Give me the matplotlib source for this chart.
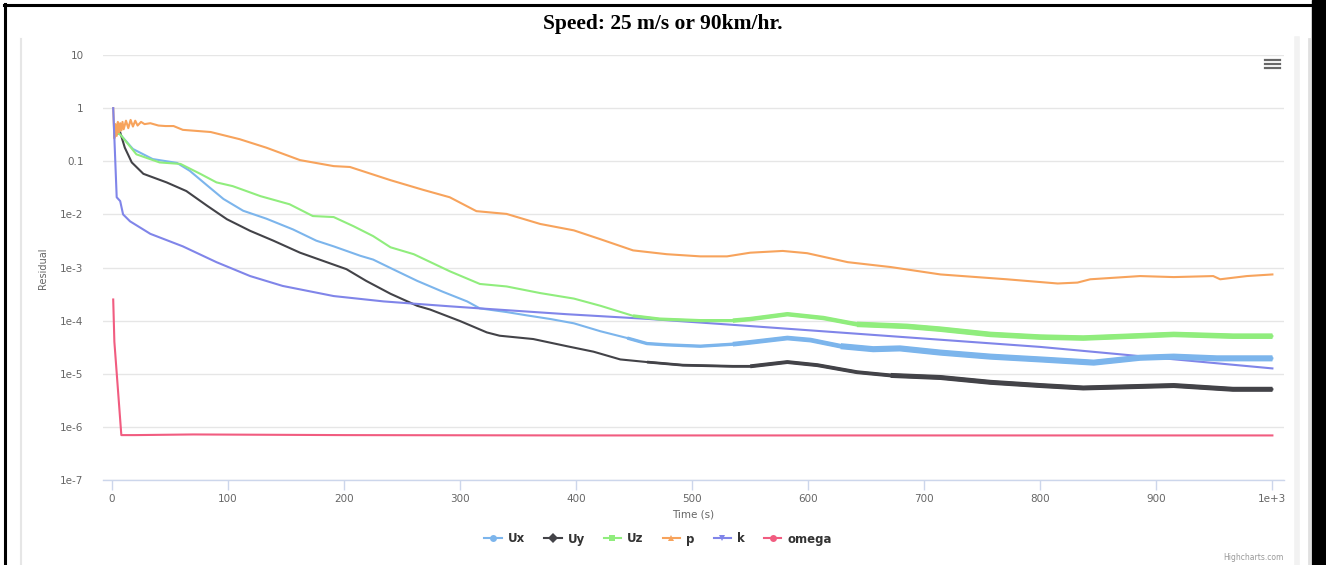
import numpy as np
import matplotlib
matplotlib.use("Agg")
import matplotlib.pyplot as plt
from matplotlib.lines import Line2D

W, H = 1326, 565

# residual history (time in s, residual value)
ux_t = [3, 7, 18, 35, 56, 67, 82, 96, 113, 133, 156, 176, 191, 214, 225, 242, 263, 285,
        306, 317, 340, 357, 378, 398, 421, 444, 461, 478, 507, 535, 550, 582, 602, 628,
        656, 679, 714, 757, 800, 846, 886, 915, 952, 1000]
ux_v = [0.36, 0.32, 0.17, 0.11, 0.093, 0.066, 0.035, 0.0195, 0.0117, 8.3e-3, 5.2e-3,
        3.2e-3, 2.5e-3, 1.66e-3, 1.41e-3, 9.3e-4, 5.6e-4, 3.5e-4, 2.3e-4, 1.7e-4, 1.45e-4,
        1.26e-4, 1.07e-4, 8.9e-5, 6.3e-5, 4.7e-5, 3.7e-5, 3.5e-5, 3.3e-5, 3.6e-5, 3.9e-5,
        4.7e-5, 4.3e-5, 3.3e-5, 2.9e-5, 3.0e-5, 2.5e-5, 2.1e-5, 1.86e-5, 1.62e-5, 2.0e-5,
        2.1e-5, 1.95e-5, 1.95e-5]

uy_t = [3, 7, 11, 17, 27, 47, 64, 82, 99, 119, 139, 162, 185, 202, 219, 240, 263, 274,
        300, 323, 334, 363, 392, 415, 438, 461, 492, 535, 550, 582, 608, 642, 671, 714,
        757, 800, 837, 915, 966, 1000]
uy_v = [0.32, 0.35, 0.18, 0.095, 0.058, 0.040, 0.0275, 0.0145, 8.1e-3, 4.9e-3, 3.2e-3,
        1.9e-3, 1.26e-3, 9.3e-4, 5.6e-4, 3.2e-4, 1.9e-4, 1.62e-4, 9.8e-5, 6.0e-5, 5.2e-5,
        4.5e-5, 3.3e-5, 2.6e-5, 1.86e-5, 1.66e-5, 1.45e-5, 1.38e-5, 1.38e-5, 1.66e-5,
        1.45e-5, 1.07e-5, 9.3e-6, 8.5e-6, 6.9e-6, 6.0e-6, 5.4e-6, 6.0e-6, 5.1e-6, 5.1e-6]

uz_t = [3, 7, 21, 41, 59, 76, 90, 104, 128, 153, 173, 191, 208, 225, 240, 260, 291, 317,
        340, 369, 398, 421, 449, 472, 507, 535, 550, 582, 613, 642, 685, 714, 757, 800,
        837, 915, 966, 1000]
uz_v = [0.35, 0.32, 0.135, 0.095, 0.089, 0.058, 0.040, 0.034, 0.022, 0.0155, 9.3e-3,
        8.9e-3, 6.0e-3, 3.9e-3, 2.4e-3, 1.78e-3, 8.5e-4, 4.9e-4, 4.4e-4, 3.3e-4, 2.6e-4,
        1.9e-4, 1.23e-4, 1.07e-4, 1.0e-4, 1.0e-4, 1.07e-4, 1.32e-4, 1.12e-4, 8.5e-5,
        7.8e-5, 6.9e-5, 5.5e-5, 4.9e-5, 4.7e-5, 5.5e-5, 5.1e-5, 5.1e-5]

p_t = [1, 2, 3, 4, 5, 6, 7, 8, 9, 10, 12, 14, 16, 18, 20, 22, 25, 28, 33, 40, 46, 53, 61,
       85, 110, 133, 162, 191, 205, 240, 268, 291, 314, 340, 369, 398, 421, 449, 478, 507,
       530, 550, 578, 599, 634, 671, 714, 771, 815, 832, 843, 886, 915, 949, 955, 978, 1000]
p_v = [1.0, 0.27, 0.5, 0.3, 0.55, 0.35, 0.52, 0.38, 0.55, 0.4, 0.58, 0.42, 0.6, 0.45,
       0.58, 0.47, 0.55, 0.5, 0.52, 0.47, 0.46, 0.46, 0.39, 0.355, 0.26, 0.18, 0.105,
       0.081, 0.078, 0.044, 0.029, 0.021, 0.0115, 0.0102, 6.6e-3, 5.0e-3, 3.4e-3, 2.1e-3,
       1.78e-3, 1.62e-3, 1.62e-3, 1.9e-3, 2.05e-3, 1.86e-3, 1.26e-3, 1.02e-3, 7.4e-4,
       6.0e-4, 5.0e-4, 5.2e-4, 6.0e-4, 6.9e-4, 6.6e-4, 6.9e-4, 6.0e-4, 6.9e-4, 7.4e-4]

k_t = [1, 4, 7, 9.5, 15.5, 33, 61, 90, 119, 147, 191, 234, 291, 317, 392, 464, 550, 800, 1000]
k_v = [1.0, 0.021, 0.0178, 0.01, 7.4e-3, 4.3e-3, 2.5e-3, 1.26e-3, 6.9e-4, 4.5e-4, 2.9e-4,
       2.3e-4, 1.86e-4, 1.7e-4, 1.32e-4, 1.07e-4, 7.9e-5, 3.2e-5, 1.26e-5]

om_t = [1, 2, 8, 20, 70, 200, 400, 600, 1000]
om_v = [2.5e-4, 4e-5, 7.0e-7, 7.0e-7, 7.2e-7, 7.0e-7, 6.9e-7, 6.9e-7, 6.9e-7]

series_names = ["Ux", "Uy", "Uz", "p", "k", "omega"]
colors = ["#7cb5ec", "#434348", "#90ed7d", "#f7a35c", "#8085e9", "#f15c80"]
markers = ["o", "D", "s", "^", "v", "o"]

y_ticks = [10, 1, 0.1, 1e-2, 1e-3, 1e-4, 1e-5, 1e-6, 1e-7]
y_labels = ["10", "1", "0.1", "1e-2", "1e-3", "1e-4", "1e-5", "1e-6", "1e-7"]
x_ticks = [0, 100, 200, 300, 400, 500, 600, 700, 800, 900, 1000]
x_labels = ["0", "100", "200", "300", "400", "500", "600", "700", "800", "900", "1e+3"]


def fx(px):
    return px / W


def fy(py):
    return 1 - py / H


fig = plt.figure(figsize=(W / 100, H / 100), dpi=100)
fig.patch.set_facecolor("white")

# plot area: x 103..1284 px, y 55..480 px
ax = fig.add_axes([fx(103), fy(480), fx(1284) - fx(103), fy(55) - fy(480)])
ax.set_yscale("log")
ax.set_ylim(1e-7, 10)
ax.set_xlim(-7.8, 1010)

data = [(ux_t, ux_v), (uy_t, uy_v), (uz_t, uz_v), (p_t, p_v), (k_t, k_v), (om_t, om_v)]
for (t, v), c in zip(data, colors):
    ax.plot(t, v, color=c, lw=1.5, solid_joinstyle="round", zorder=3)

# the noisy tails show up as bands that widen with time
bands = {
    0: [(430, 2.4), (520, 3.4), (620, 4.4)],
    1: [(440, 2.0), (540, 2.8), (660, 3.6)],
    2: [(430, 2.3), (520, 3.2), (630, 4.0)],
}
for i, stages in bands.items():
    t = np.array(data[i][0])
    v = np.array(data[i][1])
    for start, lw in stages:
        m = t >= start
        ax.plot(t[m], v[m], color=colors[i], lw=lw, solid_capstyle="butt", zorder=3)

ax.set_yticks(y_ticks)
ax.set_yticklabels(y_labels)
ax.yaxis.set_minor_locator(matplotlib.ticker.NullLocator())
ax.set_xticks(x_ticks)
ax.set_xticklabels(x_labels)
ax.grid(axis="y", color="#e6e6e6", lw=1)
ax.set_axisbelow(True)
for s in ["top", "right", "left"]:
    ax.spines[s].set_visible(False)
ax.spines["bottom"].set_color("#ccd6eb")
ax.spines["bottom"].set_linewidth(1)
ax.tick_params(axis="y", length=0, pad=14, labelsize=7.5, labelcolor="#666666")
ax.tick_params(axis="x", length=7, width=1, color="#ccd6eb", pad=3,
               labelsize=7.5, labelcolor="#666666")

ax.set_xlabel("Time (s)", fontsize=7.5, color="#666666", labelpad=4)
fig.text(fx(43), fy(268), "Residual", rotation=90, ha="center", va="center",
         fontsize=7, color="#666666")

handles = [Line2D([0], [0], color=c, lw=1.5, marker=m, markersize=5,
                  markeredgewidth=0) for c, m in zip(colors, markers)]
leg = fig.legend(handles, series_names, loc="center", bbox_to_anchor=(fx(658), fy(539)),
                 ncol=6, frameon=False, handlelength=1.5, handletextpad=0.5,
                 columnspacing=1.6, prop={"weight": "bold", "size": 8.5})
for txt in leg.get_texts():
    txt.set_color("#333333")

fig.text(fx(1284), fy(557), "Highcharts.com", ha="right", va="center",
         fontsize=5.5, color="#999999")

# export menu icon
for py in (60, 64, 68):
    fig.add_artist(Line2D([fx(1265), fx(1280)], [fy(py), fy(py)], color="#666666",
                          lw=1.6, transform=fig.transFigure))

# card edges of the screenshot
fig.add_artist(Line2D([fx(21), fx(21)], [fy(39), fy(565)], color="#e6e6e6", lw=1.5,
                      transform=fig.transFigure))
fig.add_artist(Line2D([fx(1297), fx(1297)], [fy(39), fy(565)], color="#f2f2f2", lw=4,
                      transform=fig.transFigure))
fig.add_artist(Line2D([fx(1309), fx(1309)], [fy(39), fy(565)], color="#e0e0e0", lw=2,
                      transform=fig.transFigure))

# black table border
fig.add_artist(Line2D([fx(5), fx(5)], [fy(4), fy(565)], color="black", lw=2.2,
                      transform=fig.transFigure))
fig.add_artist(Line2D([fx(4), fx(1326)], [fy(5), fy(5)], color="black", lw=2.2,
                      transform=fig.transFigure))
fig.patches.append(plt.Rectangle((fx(1312), 0), fx(14), 1, color="black",
                                 transform=fig.transFigure, figure=fig))

fig.text(0.5, fy(24), "Speed: 25 m/s or 90km/hr.", ha="center", va="center",
         fontsize=15.5, fontweight="bold", family="Liberation Serif")

fig.savefig("out.png", dpi=100)
